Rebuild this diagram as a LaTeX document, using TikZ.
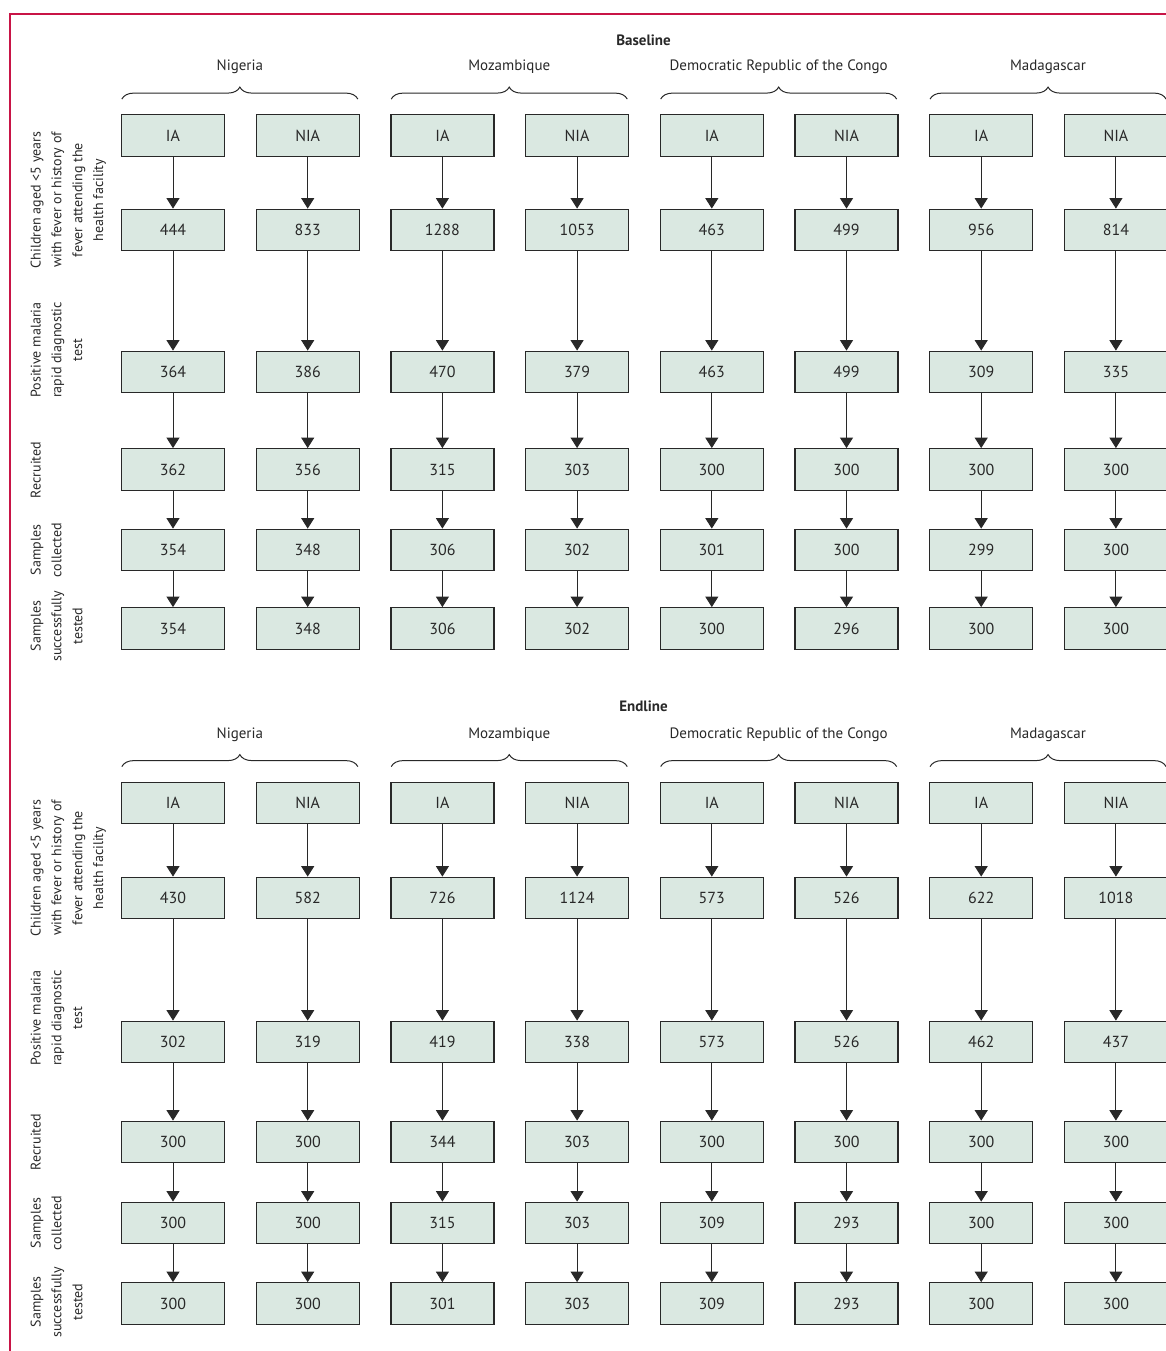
\documentclass[tikz,border=0pt]{standalone}
\usepackage{fontspec}
\setmainfont{PT Sans}
\usetikzlibrary{arrows.meta,decorations.pathreplacing}

\definecolor{boxfill}{RGB}{218,232,225}
\definecolor{frameline}{RGB}{200,20,70}
\definecolor{inkgray}{RGB}{40,40,40}

\begin{document}
\begin{tikzpicture}[x=1pt,y=-1pt,
    every node/.style={text=inkgray,font=\fontsize{15}{21}\selectfont},
    countbox/.style={draw=inkgray,line width=1.3pt,fill=boxfill,minimum width=103pt,minimum height=41.5pt,inner sep=0pt,font=\fontsize{16}{21}\selectfont},
    flow/.style={draw=inkgray,line width=1pt,-{Triangle[width=13pt,length=10.5pt]}},
    groupbrace/.style={draw=inkgray,line width=1pt,decorate,decoration={brace,amplitude=12pt}},
    sectiontitle/.style={font=\fontsize{15}{21}\selectfont\bfseries},
    rowlabel/.style={rotate=90,anchor=north,align=center,inner sep=0pt,font=\fontsize{14}{20.8}\selectfont}]
    \useasboundingbox (0,0) rectangle (1166,1351);

    % Frame
    \draw[frameline,line width=1.3pt] (10,1351) -- (10,14) -- (1170,14);

    % Baseline
    \node[sectiontitle] (basetitle) at (643.5,40) {Baseline};
    \foreach \g [count=\c] in {IA,NIA,IA,NIA,IA,NIA,IA,NIA}
        \node[countbox] (b1-\c) at ({173+134.7*(\c-1)},135.5) {\g};
    \foreach \v [count=\c] in {444,833,1288,1053,463,499,956,814}
        \node[countbox] (b2-\c) at ({173+134.7*(\c-1)},230) {\v};
    \foreach \v [count=\c] in {364,386,470,379,463,499,309,335}
        \node[countbox] (b3-\c) at ({173+134.7*(\c-1)},372) {\v};
    \foreach \v [count=\c] in {362,356,315,303,300,300,300,300}
        \node[countbox] (b4-\c) at ({173+134.7*(\c-1)},469.5) {\v};
    \foreach \v [count=\c] in {354,348,306,302,301,300,299,300}
        \node[countbox] (b5-\c) at ({173+134.7*(\c-1)},550) {\v};
    \foreach \v [count=\c] in {354,348,306,302,300,296,300,300}
        \node[countbox] (b6-\c) at ({173+134.7*(\c-1)},628.5) {\v};

    \foreach \c in {1,...,8}
        \foreach \r [remember=\r as \p (initially 1)] in {2,...,6}
            \draw[flow] (b\p-\c) -- (b\r-\c);

    \foreach \k/\n/\name in {1/2/Nigeria,3/4/Mozambique,5/6/Democratic Republic of the Congo,7/8/Madagascar}
        \draw[groupbrace] ([xshift=1pt,yshift=15pt]b1-\k.north west) -- node[midway,yshift=32pt] (bc-\k) {\name} ([xshift=-2pt,yshift=15pt]b1-\n.north east);

    \node[rowlabel] (bl-1) at (30.5,200) {Children aged <5 years\\with fever or history of\\fever attending the\\health facility};
    \node[rowlabel] (bl-2) at (30.5,350) {Positive malaria\\rapid diagnostic\\test};
    \node[rowlabel] (bl-3) at (30.5,470) {Recruited};
    \node[rowlabel] (bl-4) at (30.5,550) {Samples\\collected};
    \node[rowlabel] (bl-5) at (30.5,626) {Samples\\successfully\\tested};

    % Endline
    \node[sectiontitle] (endtitle) at (643.5,706) {Endline};
    \foreach \g [count=\c] in {IA,NIA,IA,NIA,IA,NIA,IA,NIA}
        \node[countbox] (e1-\c) at ({173+134.7*(\c-1)},803) {\g};
    \foreach \v [count=\c] in {430,582,726,1124,573,526,622,1018}
        \node[countbox] (e2-\c) at ({173+134.7*(\c-1)},898) {\v};
    \foreach \v [count=\c] in {302,319,419,338,573,526,462,437}
        \node[countbox] (e3-\c) at ({173+134.7*(\c-1)},1042) {\v};
    \foreach \v [count=\c] in {300,300,344,303,300,300,300,300}
        \node[countbox] (e4-\c) at ({173+134.7*(\c-1)},1142) {\v};
    \foreach \v [count=\c] in {300,300,315,303,309,293,300,300}
        \node[countbox] (e5-\c) at ({173+134.7*(\c-1)},1223) {\v};
    \foreach \v [count=\c] in {300,300,301,303,309,293,300,300}
        \node[countbox] (e6-\c) at ({173+134.7*(\c-1)},1303.5) {\v};

    \foreach \c in {1,...,8}
        \foreach \r [remember=\r as \p (initially 1)] in {2,...,6}
            \draw[flow] (e\p-\c) -- (e\r-\c);

    \foreach \k/\n/\name in {1/2/Nigeria,3/4/Mozambique,5/6/Democratic Republic of the Congo,7/8/Madagascar}
        \draw[groupbrace] ([xshift=1pt,yshift=15pt]e1-\k.north west) -- node[midway,yshift=32pt] (ec-\k) {\name} ([xshift=-2pt,yshift=15pt]e1-\n.north east);

    \node[rowlabel] (el-1) at (30.5,868) {Children aged <5 years\\with fever or history of\\fever attending the\\health facility};
    \node[rowlabel] (el-2) at (30.5,1018) {Positive malaria\\rapid diagnostic\\test};
    \node[rowlabel] (el-3) at (30.5,1142) {Recruited};
    \node[rowlabel] (el-4) at (30.5,1223) {Samples\\collected};
    \node[rowlabel] (el-5) at (30.5,1302) {Samples\\successfully\\tested};
\end{tikzpicture}
\end{document}
